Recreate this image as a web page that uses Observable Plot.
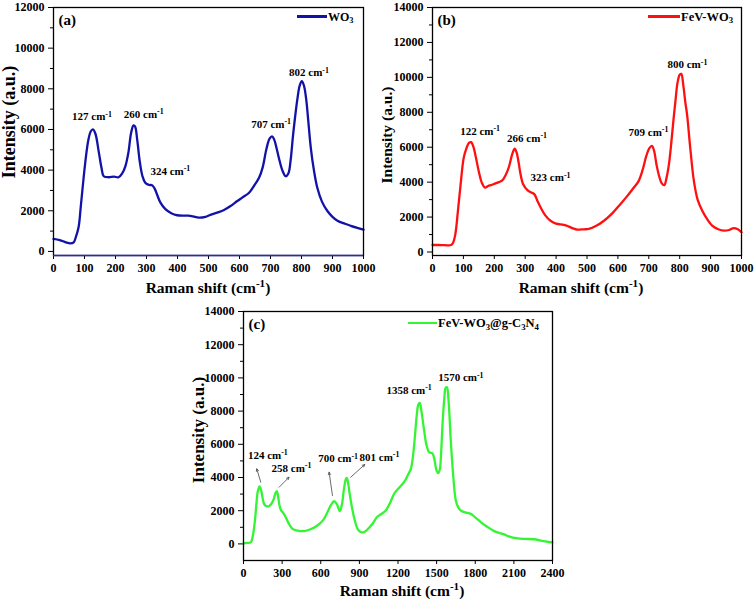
<!DOCTYPE html>
<html>
<head>
<meta charset="utf-8">
<script src="https://cdn.jsdelivr.net/npm/d3@7"></script>
<script src="https://cdn.jsdelivr.net/npm/@observablehq/plot@0.6"></script>
<style>
  html, body { margin: 0; padding: 0; background: #fff; }
  #root { position: relative; width: 756px; height: 602px; font-family: "Liberation Serif", "Times New Roman", serif; font-weight: bold; color: #000; overflow: hidden; }
  .lbl { position: absolute; white-space: nowrap; line-height: 1; }
  .sup { font-size: 0.72em; position: relative; top: -0.5em; }
  .sub { font-size: 0.7em; position: relative; top: 0.3em; }
</style>
</head>
<body>
<div id="root"></div>
<script>
// ---------- DATA ----------
// (a) WO3
const wo3Shift = [0,20,40,54,65,72,81,88,97,105,112,120,127,135,146,155,162,178,195,210,222,232,242,250,258,263,270,278,287,296,308,318,326,334,345,361,380,399,420,436,450,469,490,506,530,550,570,593,610,631,650,663,675,687,697,705,712,720,727,738,749,758,765,772,780,787,794,801,808,815,822,830,840,851,866,883,900,916,940,959,980,1000];
const wo3Intensity = [620,560,450,400,450,700,1200,2200,3600,4700,5450,5900,6000,5800,4900,4100,3700,3650,3680,3650,3850,4200,4900,5800,6200,6150,5500,4450,3700,3380,3270,3260,3100,2800,2400,2080,1880,1780,1760,1760,1720,1660,1700,1800,1920,2040,2220,2480,2660,2890,3300,3620,4150,5050,5550,5660,5500,5050,4600,4000,3700,3850,4500,5600,6700,7530,8150,8380,8150,7500,6400,5100,4000,3130,2450,2000,1700,1510,1360,1260,1160,1070];
// (b) FeV-WO3
const fevShift = [0,20,40,60,67,74,82,91,101,110,118,125,132,140,150,160,170,180,189,200,215,226,238,248,258,266,272,279,284,293,308,318,330,340,350,365,382,400,425,440,455,468,490,506,530,555,580,608,630,651,667,680,692,702,710,717,725,732,742,750,758,765,772,780,786,793,800,805,812,818,824,835,846,858,873,890,905,925,943,960,975,988,1000];
const fevIntensity = [400,400,390,400,550,1030,2300,3870,5390,5950,6250,6290,6050,5450,4600,3950,3690,3780,3830,3900,4000,4100,4450,4910,5600,5920,5700,5100,4540,3900,3530,3420,3300,2900,2550,2100,1790,1620,1560,1470,1350,1280,1300,1320,1500,1790,2180,2740,3200,3680,4060,4700,5500,5950,6080,5800,5000,4440,3930,3830,4300,5000,6100,7600,8600,9700,10150,10200,9500,8600,7850,5800,4060,3000,2360,1850,1510,1300,1220,1260,1370,1300,1130];
// (c) FeV-WO3@g-C3N4
const gcnShift = [0,30,57,75,90,100,112,125,138,150,160,175,198,215,233,248,259,270,280,290,310,328,350,380,420,471,520,574,620,652,680,704,725,748,765,780,795,802,812,825,847,865,886,910,932,960,1002,1041,1070,1105,1140,1170,1210,1247,1280,1300,1315,1331,1345,1358,1369,1382,1403,1420,1442,1460,1470,1485,1500,1512,1525,1535,1546,1560,1570,1580,1592,1610,1630,1649,1668,1688,1720,1765,1800,1843,1890,1947,1990,2024,2060,2128,2190,2257,2320,2387,2400];
const gcnIntensity = [40,60,100,600,1500,2400,3200,3460,3200,2700,2410,2280,2270,2400,2660,3050,3180,2800,2300,2050,1850,1610,1250,910,800,770,880,1110,1450,1910,2350,2570,2400,1970,2400,3300,3900,3980,3700,3000,2010,1400,910,720,700,850,1210,1650,1800,2010,2500,3020,3400,3720,4200,4520,5200,6430,7700,8400,8500,8000,6830,6000,5520,5480,5420,5000,4400,4260,4500,5500,7230,8800,9400,9440,8700,6230,4000,2610,2200,2010,1900,1810,1600,1310,1050,770,650,570,450,330,300,280,180,100,90];

// peak labels
const wo3Labels = ["127 cm^-1","260 cm^-1","324 cm^-1","707 cm^-1","802 cm^-1"];
const wo3LabelX = [124,291,377,702,824];
const wo3LabelY = [6630,6745,3950,6260,8795];

const fevLabels = ["122 cm^-1","266 cm^-1","323 cm^-1","709 cm^-1","800 cm^-1"];
const fevLabelX = [154,306,382,699,825];
const fevLabelY = [6900,6520,4250,6860,10720];

const gcnLabels = ["124 cm^-1","258 cm^-1","700 cm^-1","801 cm^-1","1358 cm^-1","1570 cm^-1"];
const gcnLabelX = [189,373,735,1056,1286,1688];
const gcnLabelY = [5325,4560,5125,5225,9240,10000];

// arrows in (c): tail -> head
const gcnArrowX1 = [134,277,691,833];
const gcnArrowY1 = [3717,3416,2916,4018];
const gcnArrowX2 = [103,354,665,942];
const gcnArrowY2 = [4524,4018,4319,4783];

// ticks
const xTicks1000 = [0,100,200,300,400,500,600,700,800,900,1000];
const xTicks2400 = [0,300,600,900,1200,1500,1800,2100,2400];
const yTicks12000 = [0,2000,4000,6000,8000,10000,12000];
const yMinor12000 = [1000,3000,5000,7000,9000,11000];
const yTicks14000 = [0,2000,4000,6000,8000,10000,12000,14000];
const yMinor14000 = [1000,3000,5000,7000,9000,11000,13000];

// ---------- DRAWING ----------
const root = document.getElementById("root");
const NS = "http://www.w3.org/2000/svg";

function superscripts(svg) {
  svg.querySelectorAll("text, tspan").forEach(el => {
    const node = el.firstChild;
    if (node && node.nodeType === 3 && node.nodeValue.includes("^")) {
      const [a, b] = node.nodeValue.split("^");
      node.nodeValue = a;
      const ts = document.createElementNS(NS, "tspan");
      ts.setAttribute("dy", "-0.45em");
      ts.setAttribute("font-size", "0.72em");
      ts.textContent = b;
      el.appendChild(ts);
    }
  });
}

function panel(o) {
  const data = o.x.map((x, i) => ({x, y: o.y[i]}));
  const labels = o.labels.map((t, i) => ({t, x: o.lx[i], y: o.ly[i]}));
  const marks = [
    Plot.axisX(o.xTicks, {tickSize: 4, tickPadding: 4, tickFormat: d3.format("d"), label: null, fontSize: o.tickFont}),
    Plot.axisY(o.yTicks, {tickSize: 5, tickPadding: 4, tickFormat: d3.format("d"), label: null, fontSize: o.tickFont}),
    Plot.axisY(o.yMinor, {tickSize: 3, tickFormat: () => "", label: null}),
    Plot.line(data, {x: "x", y: "y", stroke: o.color, strokeWidth: 2.3, curve: "catmull-rom"}),
    Plot.text(labels, {x: "x", y: "y", text: "t", fontSize: 11, fontWeight: "bold", textAnchor: "middle"}),
    Plot.frame({stroke: "#000", strokeWidth: 1.3})
  ];
  if (o.bottomColor) marks.push(Plot.ruleY([o.yDomain[0]], {stroke: o.bottomColor, strokeWidth: 1.4}));
  if (o.arrows) {
    const arr = o.arrows.x1.map((x1, i) => ({x1, y1: o.arrows.y1[i], x2: o.arrows.x2[i], y2: o.arrows.y2[i]}));
    marks.push(Plot.arrow(arr, {x1: "x1", y1: "y1", x2: "x2", y2: "y2", stroke: "#444", strokeWidth: 0.8, headLength: 5, headAngle: 50}));
  }
  marks.push(Plot.text([o.tag], {frameAnchor: "top-left", dx: 5, dy: 7, fontSize: 15, fontWeight: "bold"}));
  const svg = Plot.plot({
    width: o.width, height: o.height,
    marginLeft: o.ml, marginRight: o.mr, marginTop: o.mt, marginBottom: o.mb,
    x: {domain: o.xDomain},
    y: {domain: o.yDomain},
    style: {fontFamily: "'Liberation Serif', 'Times New Roman', serif", fontWeight: "bold", color: "#000", background: "transparent", overflow: "visible"},
    marks
  });
  superscripts(svg);
  const d = document.createElement("div");
  d.style.position = "absolute";
  d.style.left = o.left + "px";
  d.style.top = o.top + "px";
  d.appendChild(svg);
  root.appendChild(d);
}

function label(html, x, y, size, rot) {
  const d = document.createElement("div");
  d.className = "lbl";
  d.innerHTML = html;
  d.style.left = x + "px";
  d.style.top = y + "px";
  d.style.fontSize = size + "px";
  d.style.transform = "translate(-50%,-50%)" + (rot ? " rotate(-90deg)" : "");
  root.appendChild(d);
}

function legend(html, x1, x2, y, color, size) {
  const l = document.createElement("div");
  l.style.cssText = `position:absolute;left:${x1}px;top:${y - 1.2}px;width:${x2 - x1}px;height:2.4px;background:${color}`;
  root.appendChild(l);
  const t = document.createElement("div");
  t.className = "lbl";
  t.innerHTML = html;
  t.style.left = (x2 + 1) + "px";
  t.style.top = y + "px";
  t.style.fontSize = size + "px";
  t.style.transform = "translate(0,-50%)";
  root.appendChild(t);
}

panel({left: 0, top: 0, width: 378, height: 300, ml: 53, mr: 15, mt: 7, mb: 45,
  x: wo3Shift, y: wo3Intensity, color: "#1212a8", bottomColor: "#2a2ab8",
  xDomain: [0, 1000], yDomain: [-200, 12000], xTicks: xTicks1000, yTicks: yTicks12000, yMinor: yMinor12000,
  labels: wo3Labels, lx: wo3LabelX, ly: wo3LabelY, tag: "(a)", tickFont: 12});

panel({left: 378, top: 0, width: 378, height: 300, ml: 54, mr: 15, mt: 7, mb: 45,
  x: fevShift, y: fevIntensity, color: "#ff1010",
  xDomain: [0, 1000], yDomain: [-200, 14000], xTicks: xTicks1000, yTicks: yTicks14000, yMinor: yMinor14000,
  labels: fevLabels, lx: fevLabelX, ly: fevLabelY, tag: "(b)", tickFont: 12});

panel({left: 190, top: 300, width: 380, height: 302, ml: 53, mr: 18, mt: 11, mb: 42,
  x: gcnShift, y: gcnIntensity, color: "#33f533",
  xDomain: [0, 2400], yDomain: [-1000, 14000], xTicks: xTicks2400, yTicks: yTicks14000, yMinor: yMinor14000,
  labels: gcnLabels, lx: gcnLabelX, ly: gcnLabelY, tag: "(c)", tickFont: 12,
  arrows: {x1: gcnArrowX1, y1: gcnArrowY1, x2: gcnArrowX2, y2: gcnArrowY2}});

// axis titles
const xTitle = 'Raman shift (cm<span class="sup">-1</span>)';
label(xTitle, 208, 288, 15.5);
label(xTitle, 581, 288, 15.5);
label(xTitle, 402, 591, 15.5);
label("Intensity (a.u.)", 9, 122, 18, true);
label("Intensity (a.u.)", 387, 135, 15.5, true);
label("Intensity (a.u.)", 198, 430, 17, true);

// legends
legend('WO<span class="sub">3</span>', 297, 327, 16.5, "#1212a8", 12);
legend('FeV-WO<span class="sub">3</span>', 648, 680, 16.5, "#ff1010", 12.5);
legend('FeV-WO<span class="sub">3</span>@g-C<span class="sub">3</span>N<span class="sub">4</span>', 408, 437, 323, "#33f533", 12.5);
</script>
</body>
</html>
